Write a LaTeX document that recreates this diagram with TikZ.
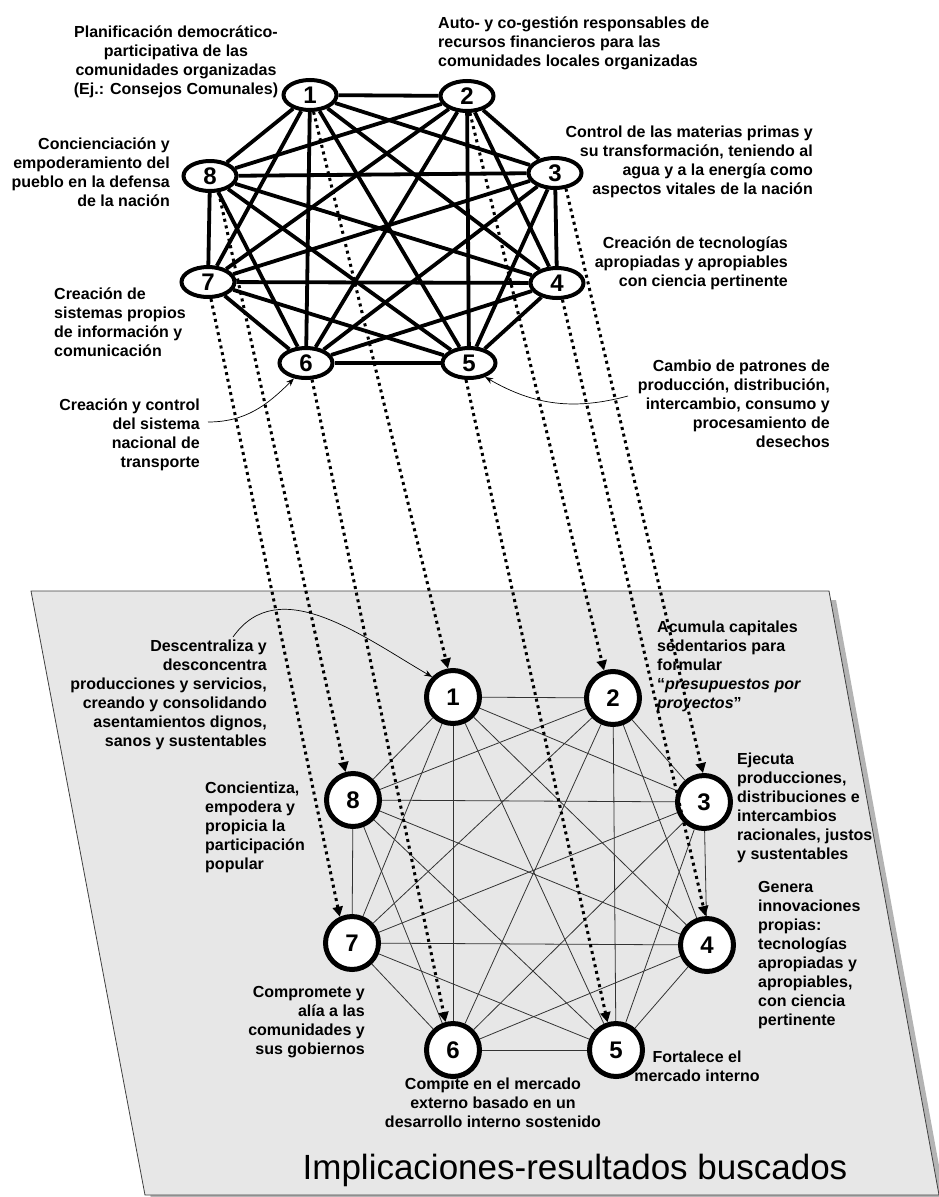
\documentclass[tikz,border=0pt]{standalone}
\usepackage{fontspec}
\setmainfont{Liberation Sans}
\usepackage{tikz}
\usetikzlibrary{shapes.geometric,arrows.meta}
\definecolor{panelgray}{RGB}{231,231,231}
\definecolor{shadowgray}{RGB}{180,180,180}
\tikzstyle{objective} = [draw, ellipse, line width=4pt, fill=white, minimum width=53pt, minimum height=30pt, inner sep=0pt, font=\fontsize{24}{24}\selectfont\bfseries]
\tikzstyle{result} = [draw, circle, line width=5pt, fill=white, minimum size=53pt, inner sep=0pt, font=\fontsize{24}{24}\selectfont\bfseries]
\tikzstyle{strong} = [line width=3.8pt]
\tikzstyle{weak} = [line width=0.8pt, draw=black!80]
\tikzstyle{dotlink} = [line width=3pt, dash pattern=on 3pt off 3.8pt, -{Triangle[length=10pt,width=10pt]}]
\tikzstyle{remark} = [line width=0.7pt, -{Stealth[length=8pt,width=6pt]}]
\tikzstyle{txt} = [inner sep=0pt, font=\fontsize{16}{19}\selectfont\bfseries]

\begin{document}
\begin{tikzpicture}[x=1pt, y=1pt, >=stealth]

\useasboundingbox (0,0) rectangle (938,-1197);

% panel
\fill[shadowgray] (38,-600) -- (836,-600) -- (946,-1204) -- (152,-1204) -- cycle;
\filldraw[fill=panelgray, draw=black!75, line width=0.8pt] (31,-591) -- (829,-591) -- (939,-1195) -- (145,-1195) -- cycle;

% objectives (top)
\node (t1) [objective] at (310,-95)  {1};
\node (t2) [objective] at (467,-96)  {2};
\node (t3) [objective] at (555,-173) {3};
\node (t4) [objective] at (557,-283) {4};
\node (t5) [objective] at (469,-363) {5};
\node (t6) [objective] at (306,-363) {6};
\node (t7) [objective] at (208,-282) {7};
\node (t8) [objective] at (210,-176) {8};

% results (bottom)
\node (b1) [result] at (453,-697)  {1};
\node (b2) [result] at (613,-698)  {2};
\node (b3) [result] at (704,-802)  {3};
\node (b4) [result] at (707,-945)  {4};
\node (b5) [result] at (616,-1050) {5};
\node (b6) [result] at (453,-1050) {6};
\node (b7) [result] at (352,-943)  {7};
\node (b8) [result] at (353,-800)  {8};

% edges top
\path[strong] (t1) edge (t2) edge (t3) edge (t4) edge (t5) edge (t6) edge (t7) edge (t8);
\path[strong] (t2) edge (t3) edge (t4) edge (t5) edge (t6) edge (t7) edge (t8);
\path[strong] (t3) edge (t4) edge (t5) edge (t6) edge (t7) edge (t8);
\path[strong] (t4) edge (t5) edge (t6) edge (t7) edge (t8);
\path[strong] (t5) edge (t6) edge (t7) edge (t8);
\path[strong] (t6) edge (t7) edge (t8);
\path[strong] (t7) edge (t8);

% edges bottom
\path[weak] (b1) edge (b2) edge (b3) edge (b4) edge (b5) edge (b6) edge (b7) edge (b8);
\path[weak] (b2) edge (b3) edge (b4) edge (b5) edge (b6) edge (b7) edge (b8);
\path[weak] (b3) edge (b4) edge (b5) edge (b6) edge (b7) edge (b8);
\path[weak] (b4) edge (b5) edge (b6) edge (b7) edge (b8);
\path[weak] (b5) edge (b6) edge (b7) edge (b8);
\path[weak] (b6) edge (b7) edge (b8);
\path[weak] (b7) edge (b8);

% links top -> bottom
\draw[dotlink] (t1.-78)  -- (b1.100);
\draw[dotlink] (t2.-80)  -- (b2.108);
\draw[dotlink] (t3.-55)  -- (b3.92);
\draw[dotlink] (t4.-72)  -- (b4.93);
\draw[dotlink] (t5.-100) -- (b5.107);
\draw[dotlink] (t6.-70)  -- (b6.105);
\draw[dotlink] (t7.-80)  -- (b7.115);
\draw[dotlink] (t8.-62)  -- (b8.105);

% texts top
\node (lt1) [txt, align=center] at (176,-62) {Planificación democrático-\\participativa de las\\comunidades organizadas\\(Ej.: Consejos Comunales)};
\node (lt2) [txt, align=left, anchor=west] at (438,-43) {Auto- y co-gestión responsables de\\recursos financieros para las\\comunidades locales organizadas};
\node (lt3) [txt, align=right, anchor=east] at (813,-162) {Control de las materias primas y\\su transformación, teniendo al\\agua y a la energía como\\aspectos vitales de la nación};
\node (lt4) [txt, align=right, anchor=east] at (788,-263) {Creación de tecnologías\\apropiadas y apropiables\\con ciencia pertinente};
\node (lt5) [txt, align=right, anchor=east] at (830,-404) {Cambio de patrones de\\producción, distribución,\\intercambio, consumo y\\procesamiento de\\desechos};
\node (lt6) [txt, align=right, anchor=east] at (200,-435) {Creación y control\\del sistema\\nacional de\\transporte};
\node (lt7) [txt, align=left, anchor=west] at (54,-322) {Creación de\\sistemas propios\\de información y\\comunicación};
\node (lt8) [txt, align=right, anchor=east] at (170,-172) {Concienciación y\\empoderamiento del\\pueblo en la defensa\\de la nación};

% texts bottom
\node (lb1) [txt, align=right, anchor=east] at (267,-695) {Descentraliza y\\desconcentra\\producciones y servicios,\\creando y consolidando\\asentamientos dignos,\\sanos y sustentables};
\node (lb2) [txt, align=left, anchor=west] at (657,-666) {Acumula capitales\\sedentarios para\\formular\\“\textit{presupuestos por}\\\textit{proyectos}”};
\node (lb3) [txt, align=left, anchor=west] at (737,-808) {Ejecuta\\producciones,\\distribuciones e\\intercambios\\racionales, justos\\y sustentables};
\node (lb4) [txt, align=left, anchor=west] at (758,-955) {Genera\\innovaciones\\propias:\\tecnologías\\apropiadas y\\apropiables,\\con ciencia\\pertinente};
\node (lb5) [txt, align=center] at (697,-1066) {Fortalece el\\mercado interno};
\node (lb6) [txt, align=center] at (493,-1103) {Compite en el mercado\\externo basado en un\\desarrollo interno sostenido};
\node (lb7) [txt, align=right, anchor=east] at (365,-1022) {Compromete y\\alía a las\\comunidades y\\sus gobiernos};
\node (lb8) [txt, align=left, anchor=west] at (205,-827) {Concientiza,\\empodera y\\propicia la\\participación\\popular};

\node (title) [inner sep=0pt, font=\fontsize{35}{35}\selectfont] at (575,-1170) {Implicaciones-resultados buscados};

% pointers
\coordinate (c6) at (208,-422);
\coordinate (c5) at (628,-396);
\coordinate (c1) at (233,-637);
\draw[remark] (c6) to[out=0,in=225] (t6.232);
\draw[remark] (c5) to[out=195,in=-30] (t5.-41);
\draw[remark] (c1) to[out=55,in=150] (b1.136);

\end{tikzpicture}
\end{document}
